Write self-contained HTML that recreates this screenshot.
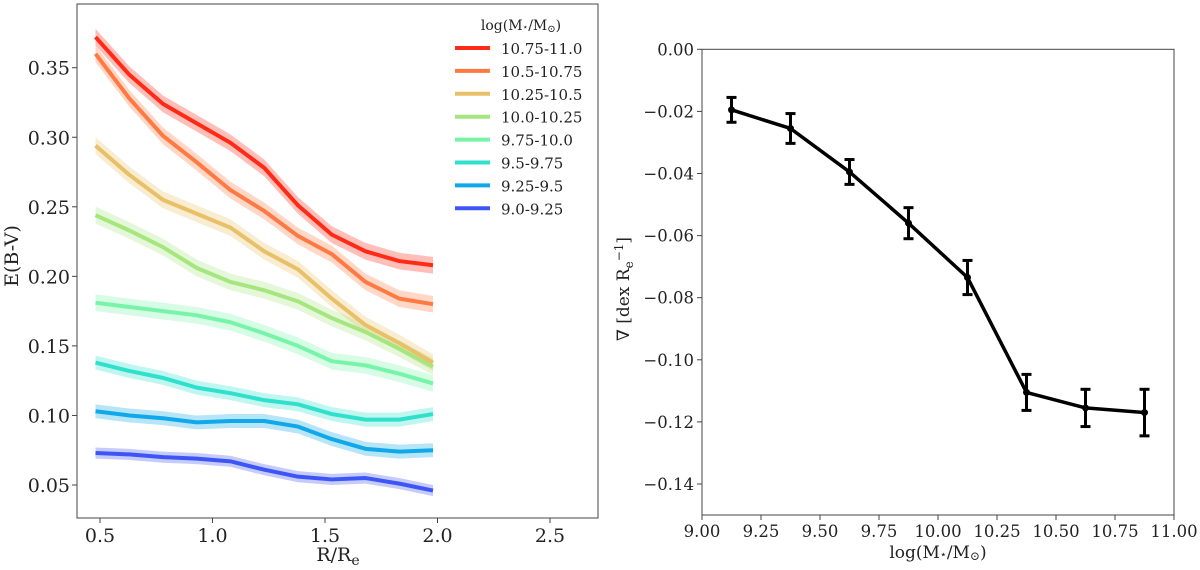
<!DOCTYPE html>
<html><head><meta charset="utf-8"><style>
body{margin:0;background:#fff}
svg{display:block;font-family:"DejaVu Serif","Liberation Serif",serif}
</style></head><body>
<svg id="fig" width="1200" height="570" viewBox="0 0 1200 570">
<g id="left"></g>
<g id="right"></g>
</svg>
<script>
const NS="http://www.w3.org/2000/svg";
// ---- left chart data ----
const radii=[0.48,0.63,0.78,0.93,1.08,1.23,1.38,1.53,1.68,1.83,1.98];
const seriesLabels=["10.75-11.0","10.5-10.75","10.25-10.5","10.0-10.25","9.75-10.0","9.5-9.75","9.25-9.5","9.0-9.25"];
const seriesColors=["#ff2b17","#ff7a43","#e9c068","#a5e67e","#78f4a8","#2fe0cc","#10a8e8","#3e55f5"];
const s1075=[0.372,0.345,0.324,0.310,0.296,0.278,0.251,0.230,0.218,0.211,0.208];
const s105=[0.360,0.328,0.301,0.282,0.262,0.247,0.229,0.216,0.196,0.184,0.180];
const s1025=[0.294,0.273,0.255,0.245,0.235,0.218,0.205,0.184,0.165,0.152,0.138];
const s100=[0.244,0.233,0.221,0.206,0.196,0.190,0.182,0.170,0.160,0.148,0.135];
const s975=[0.181,0.178,0.175,0.172,0.167,0.159,0.150,0.139,0.136,0.130,0.123];
const s95=[0.138,0.132,0.127,0.120,0.116,0.111,0.108,0.101,0.097,0.097,0.101];
const s925=[0.103,0.100,0.098,0.095,0.096,0.096,0.092,0.083,0.076,0.074,0.075];
const s90=[0.073,0.072,0.070,0.069,0.067,0.061,0.056,0.054,0.055,0.051,0.046];
const seriesErr=[0.006,0.006,0.006,0.006,0.006,0.005,0.005,0.004];
const leftXTicks=[0.5,1.0,1.5,2.0,2.5];
const leftYTicks=[0.05,0.10,0.15,0.20,0.25,0.30,0.35];
// ---- right chart data ----
const massBins=[9.125,9.375,9.625,9.875,10.125,10.375,10.625,10.875];
const gradients=[-0.0195,-0.0255,-0.0395,-0.056,-0.0735,-0.1105,-0.1155,-0.117];
const gradErr=[0.004,0.0048,0.004,0.005,0.0055,0.0058,0.006,0.0075];
const rightXTicks=[9.00,9.25,9.50,9.75,10.00,10.25,10.50,10.75,11.00];
const rightYTicks=[0.00,-0.02,-0.04,-0.06,-0.08,-0.10,-0.12,-0.14];

function mk(tag,attrs,parent,text){const e=document.createElementNS(NS,tag);for(const k in attrs)e.setAttribute(k,attrs[k]);if(text!==undefined)e.textContent=text;parent.appendChild(e);return e;}

const L=document.getElementById('left');
const lx=v=>100+(v-0.5)*225;
const ly=v=>485-(v-0.05)*1391;
const allSeries=[s1075,s105,s1025,s100,s975,s95,s925,s90];
for(let k=allSeries.length-1;k>=0;k--){
  const s=allSeries[k],e=seriesErr[k];
  let d="M"+radii.map((r,i)=>lx(r)+","+ly(s[i]+e)).join("L");
  for(let i=radii.length-1;i>=0;i--)d+="L"+lx(radii[i])+","+ly(s[i]-e);
  const band=mk('path',{d:d+"Z",fill:seriesColors[k],opacity:0.3},L);
  
  
}
for(let k=allSeries.length-1;k>=0;k--){
  const s=allSeries[k];
  const p=mk('polyline',{points:radii.map((r,i)=>lx(r)+","+ly(s[i])).join(" "),fill:"none",stroke:seriesColors[k],"stroke-width":4,"stroke-linejoin":"round"},L);
  
  
}
const lf=mk('rect',{x:77,y:4,width:521,height:514,fill:"none",stroke:"#444","stroke-width":1},L);


leftXTicks.forEach(t=>{
  mk('line',{x1:lx(t),x2:lx(t),y1:518,y2:523,stroke:"#444"},L);
  const tx=mk('text',{x:lx(t),y:542,"font-size":19,"text-anchor":"middle",fill:"#222"},L,t.toFixed(1));
  
  
});
leftYTicks.forEach(t=>{
  mk('line',{x1:72,x2:77,y1:ly(t),y2:ly(t),stroke:"#444"},L);
  const tx=mk('text',{x:70,y:ly(t)+7,"font-size":19,"text-anchor":"end",fill:"#222"},L,t.toFixed(2));
  
  
});
const xt=mk('text',{x:338,y:561,"font-size":19,"text-anchor":"middle",fill:"#222"},L);
xt.innerHTML='R/R<tspan font-size="14" dy="4">e</tspan>';


const yt=mk('text',{x:0,y:0,"font-size":19,"text-anchor":"middle",fill:"#222",transform:"translate(18,256) rotate(-90)"},L,"E(B-V)");


const lg=mk('g',{},L);


const lt=mk('text',{x:521,y:30,"font-size":14,"text-anchor":"middle",fill:"#222"},lg);
lt.innerHTML='log(M<tspan font-size="9">⋆</tspan>/M<tspan font-size="10" dy="2">⊙</tspan><tspan dy="-2">)</tspan>';


seriesLabels.forEach((lab,k)=>{
  const y=48+k*22.9;
  const ent=mk('g',{},lg);
  
  
  mk('line',{x1:455,x2:490,y1:y,y2:y,stroke:seriesColors[k],"stroke-width":4},ent);
  mk('text',{x:501,y:y+6,"font-size":15,fill:"#222"},ent,lab);
});

const R=document.getElementById('right');
const rx=v=>702+(v-9)*236;
const ry=v=>49.3-v*3105;
const rf=mk('rect',{x:702,y:49.3,width:472,height:465.7,fill:"none",stroke:"#444","stroke-width":1},R);


rightXTicks.forEach(t=>{
  mk('line',{x1:rx(t),x2:rx(t),y1:515,y2:520,stroke:"#444"},R);
  const tx=mk('text',{x:rx(t),y:537,"font-size":16.5,"text-anchor":"middle",fill:"#222"},R,t.toFixed(2));
  
  
});
rightYTicks.forEach(t=>{
  mk('line',{x1:697,x2:702,y1:ry(t),y2:ry(t),stroke:"#444"},R);
  const tx=mk('text',{x:694,y:ry(t)+6,"font-size":16.5,"text-anchor":"end",fill:"#222"},R,(t<0?"−":"")+Math.abs(t).toFixed(2));
  
  
});
const rl=mk('polyline',{points:massBins.map((m,i)=>rx(m)+","+ry(gradients[i])).join(" "),fill:"none",stroke:"#000","stroke-width":3.5,"stroke-linejoin":"round"},R);


massBins.forEach((m,i)=>{
  const g=mk('g',{stroke:"#000","stroke-width":3},R);
  
  
  const x=rx(m),y1=ry(gradients[i]+gradErr[i]),y2=ry(gradients[i]-gradErr[i]);
  mk('line',{x1:x,x2:x,y1:y1,y2:y2},g);
  mk('line',{x1:x-5,x2:x+5,y1:y1,y2:y1},g);
  mk('line',{x1:x-5,x2:x+5,y1:y2,y2:y2},g);
  mk('circle',{cx:x,cy:ry(gradients[i]),r:3.5,fill:"#000",stroke:"none"},g);
});
const rxt=mk('text',{x:938,y:558,"font-size":17,"text-anchor":"middle",fill:"#222"},R);
rxt.innerHTML='log(M<tspan font-size="11">⋆</tspan>/M<tspan font-size="12" dy="2">⊙</tspan><tspan dy="-2">)</tspan>';


const ryt=mk('text',{x:0,y:0,"font-size":17,"text-anchor":"middle",fill:"#222",transform:"translate(629,289) rotate(-90)"},R);
ryt.innerHTML='∇ [dex R<tspan font-size="12" dy="4">e</tspan><tspan font-size="12" dy="-10">−1</tspan><tspan dy="6">]</tspan>';


</script>
</body></html>
